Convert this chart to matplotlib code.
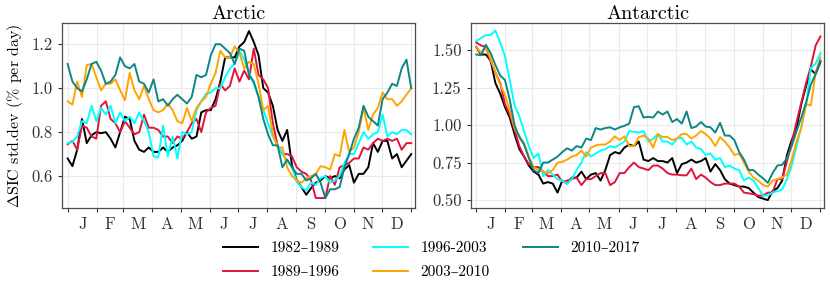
import numpy as np
import matplotlib
matplotlib.use("Agg")
import matplotlib.pyplot as plt
from matplotlib.ticker import FixedLocator, NullFormatter, FixedFormatter, FormatStrFormatter

plt.rcParams['font.family'] = ['cmr10', 'DejaVu Serif']
plt.rcParams['mathtext.fontset'] = 'cm'
plt.rcParams['axes.formatter.use_mathtext'] = True

labels = ["1982–1989", "1989–1996", "1996-2003", "2003–2010", "2010–2017"]
colors = ["black", "#E0143C", "#00FFFF", "#FFA500", "#108585"]
month_labels = ["J", "F", "M", "A", "M", "J", "J", "A", "S", "O", "N", "D"]
month_edges = [0, 31, 59, 90, 120, 151, 181, 212, 243, 273, 304, 334, 365]

arctic_1982 = [0.68,0.645,0.72,0.86,0.75,0.785,0.80,0.795,0.80,0.77,0.73,0.80,0.87,0.86,0.76,0.72,0.71,0.73,0.71,0.71,
               0.73,0.71,0.73,0.74,0.76,0.80,0.77,0.78,0.89,0.90,0.90,0.95,1.03,1.14,1.14,1.14,1.19,1.21,1.26,1.21,
               1.15,1.00,0.98,0.92,0.81,0.76,0.81,0.65,0.58,0.55,0.515,0.545,0.57,0.58,0.60,0.59,0.60,0.59,0.63,0.65,
               0.57,0.61,0.61,0.64,0.75,0.71,0.76,0.76,0.68,0.70,0.64,0.67,0.70]
arctic_1989 = [0.745,0.76,0.72,0.83,0.82,0.78,0.77,0.92,0.94,0.86,0.84,0.80,0.85,0.82,0.79,0.80,0.88,0.82,0.82,0.81,
               0.78,0.78,0.75,0.78,0.77,0.80,0.84,0.86,0.80,0.89,0.91,0.92,1.02,0.99,1.01,1.09,1.03,1.08,1.04,1.18,
               1.06,1.04,1.00,0.84,0.74,0.70,0.70,0.69,0.64,0.62,0.61,0.58,0.50,0.50,0.50,0.60,0.56,0.64,0.65,0.66,
               0.68,0.68,0.73,0.72,0.75,0.77,0.76,0.77,0.76,0.77,0.72,0.75,0.75]
arctic_1996 = [0.75,0.755,0.78,0.85,0.84,0.92,0.85,0.91,0.88,0.92,0.84,0.89,0.85,0.87,0.84,0.89,0.85,0.80,0.69,0.685,
               0.83,0.69,0.78,0.68,0.80,0.79,0.80,0.90,0.94,0.975,0.98,1.00,1.00,1.05,1.09,1.11,1.17,1.13,1.07,1.02,
               0.96,0.90,0.84,0.78,0.74,0.70,0.67,0.64,0.575,0.55,0.535,0.57,0.56,0.59,0.60,0.57,0.58,0.60,0.66,0.70,
               0.70,0.75,0.80,0.77,0.79,0.80,0.88,0.78,0.80,0.79,0.81,0.81,0.79]
arctic_2003 = [0.94,0.925,1.03,0.96,1.105,1.11,1.05,0.99,1.02,1.02,1.04,0.99,0.945,1.07,0.99,0.95,1.01,0.95,0.90,0.89,
               0.90,0.93,0.90,0.85,0.84,0.91,0.85,0.91,0.94,0.96,1.02,1.07,1.17,1.14,1.14,1.19,1.16,1.09,1.12,1.11,
               1.02,0.90,0.92,0.79,0.73,0.73,0.64,0.60,0.58,0.57,0.59,0.60,0.61,0.645,0.64,0.63,0.70,0.69,0.81,0.71,
               0.73,0.80,0.91,0.81,0.88,0.91,0.98,0.95,0.95,0.92,0.94,0.97,1.00]
arctic_2010 = [1.11,1.03,1.00,0.985,1.04,1.11,1.12,1.08,1.02,1.03,1.06,1.14,1.10,1.09,1.11,1.03,1.02,0.98,1.04,0.94,
               0.95,0.92,0.95,0.97,0.95,0.93,0.96,1.06,1.05,1.06,1.15,1.20,1.20,1.18,1.16,1.11,1.18,1.17,1.06,1.03,
               0.96,0.86,0.79,0.74,0.74,0.64,0.675,0.64,0.61,0.61,0.58,0.59,0.61,0.57,0.50,0.54,0.54,0.55,0.64,0.70,
               0.77,0.82,0.92,0.87,0.85,0.83,0.95,0.98,1.02,1.01,1.09,1.13,1.00]

antarctic_1982 = [1.52,1.47,1.47,1.43,1.28,1.21,1.12,1.05,0.94,0.84,0.79,0.73,0.69,0.67,0.61,0.62,0.61,0.55,0.63,0.61,
                  0.65,0.65,0.69,0.64,0.67,0.68,0.63,0.70,0.80,0.82,0.81,0.85,0.87,0.86,0.89,0.77,0.76,0.78,0.76,0.76,
                  0.75,0.78,0.68,0.74,0.75,0.77,0.75,0.76,0.78,0.69,0.74,0.70,0.64,0.61,0.60,0.59,0.59,0.58,0.55,0.52,
                  0.51,0.50,0.56,0.58,0.63,0.80,0.90,0.98,1.14,1.26,1.37,1.34,1.42]
antarctic_1989 = [1.55,1.53,1.52,1.43,1.35,1.28,1.14,1.07,0.97,0.86,0.79,0.74,0.72,0.72,0.69,0.66,0.66,0.67,0.62,0.63,
                  0.64,0.65,0.60,0.64,0.64,0.66,0.68,0.68,0.60,0.62,0.68,0.68,0.72,0.75,0.72,0.71,0.70,0.73,0.73,0.71,
                  0.68,0.67,0.67,0.665,0.665,0.71,0.64,0.67,0.65,0.62,0.60,0.60,0.61,0.61,0.61,0.59,0.55,0.545,0.54,0.53,
                  0.53,0.55,0.55,0.64,0.64,0.76,0.88,1.02,1.15,1.28,1.39,1.53,1.59]
antarctic_1996 = [1.56,1.58,1.60,1.60,1.63,1.55,1.46,1.30,1.13,1.06,0.96,0.86,0.78,0.81,0.66,0.70,0.67,0.64,0.63,0.61,
                  0.64,0.70,0.75,0.82,0.79,0.81,0.83,0.84,0.86,0.85,0.87,0.89,0.96,0.955,0.95,0.96,0.89,0.91,0.94,0.89,
                  0.89,0.87,0.91,0.915,0.87,0.89,0.85,0.84,0.80,0.81,0.77,0.78,0.72,0.73,0.71,0.70,0.63,0.65,0.63,0.58,
                  0.53,0.53,0.55,0.56,0.57,0.64,0.73,0.86,0.99,1.13,1.38,1.41,1.48]
antarctic_2003 = [1.52,1.48,1.52,1.44,1.35,1.27,1.20,1.10,0.98,0.93,0.88,0.79,0.72,0.70,0.69,0.68,0.70,0.75,0.755,0.77,
                  0.79,0.80,0.83,0.79,0.85,0.865,0.87,0.87,0.89,0.925,0.90,0.925,0.86,0.86,0.92,0.93,0.91,0.85,0.94,0.92,
                  0.92,0.90,0.91,0.94,0.94,0.91,0.93,0.96,0.94,0.91,0.86,0.92,0.89,0.85,0.80,0.81,0.75,0.69,0.65,0.63,
                  0.60,0.59,0.63,0.64,0.65,0.67,0.77,0.89,0.98,1.14,1.13,1.35,1.45]
antarctic_2010 = [1.47,1.465,1.535,1.48,1.40,1.33,1.30,1.17,1.00,0.92,0.87,0.78,0.70,0.68,0.75,0.75,0.77,0.79,0.82,0.845,
                  0.83,0.86,0.85,0.91,0.90,0.98,0.97,0.98,0.985,0.97,0.985,0.995,1.01,1.12,1.125,1.05,1.055,1.05,1.09,1.07,
                  1.09,1.02,1.04,1.01,1.09,0.98,0.99,1.02,0.99,0.985,0.95,1.015,0.93,0.93,0.90,0.82,0.77,0.70,0.70,0.67,
                  0.645,0.615,0.68,0.73,0.735,0.78,0.86,0.96,1.05,1.15,1.27,1.34,1.43]

arctic = [arctic_1982, arctic_1989, arctic_1996, arctic_2003, arctic_2010]
antarctic = [antarctic_1982, antarctic_1989, antarctic_1996, antarctic_2003, antarctic_2010]

fig = plt.figure(figsize=(8.3, 2.91), dpi=100)
ax1 = fig.add_axes([0.0747, 0.284, 0.4253, 0.638])
ax2 = fig.add_axes([0.567, 0.284, 0.426, 0.638])

def style(ax, ylim, yticks, fmt):
    ax.set_facecolor("white")
    ax.grid(True, which="major", color="#EBEBEB", lw=0.8, zorder=0)
    ax.set_axisbelow(True)
    for s in ax.spines.values():
        s.set_color("#4D4D4D")
        s.set_linewidth(0.9)
    ax.set_xlim(-6, 369)
    ax.set_ylim(*ylim)
    ax.xaxis.set_major_locator(FixedLocator(month_edges))
    ax.xaxis.set_major_formatter(NullFormatter())
    mids = [(a + b) / 2 for a, b in zip(month_edges[:-1], month_edges[1:])]
    ax.xaxis.set_minor_locator(FixedLocator(mids))
    ax.xaxis.set_minor_formatter(FixedFormatter(month_labels))
    ax.tick_params(axis="x", which="minor", length=0, labelsize=12, pad=6, colors="#333333")
    ax.tick_params(axis="x", which="major", length=3, color="#333333", width=0.8)
    ax.yaxis.set_major_locator(FixedLocator(yticks))
    ax.yaxis.set_major_formatter(FormatStrFormatter(fmt))
    ax.tick_params(axis="y", length=3, color="#333333", width=0.8, labelsize=12, labelcolor="#333333")

n = len(arctic_1982)
x = np.linspace(0, 365, n)
for vals, c, lab in zip(arctic, colors, labels):
    ax1.plot(x, vals, color=c, lw=1.4, label=lab)
for vals, c, lab in zip(antarctic, colors, labels):
    ax2.plot(x, vals, color=c, lw=1.4)

style(ax1, (0.453, 1.298), [0.6, 0.8, 1.0, 1.2], "%.1f")
style(ax2, (0.445, 1.682), [0.5, 0.75, 1.0, 1.25, 1.5], "%.2f")
ax1.set_title("Arctic", fontsize=14.5, pad=3)
ax2.set_title("Antarctic", fontsize=14.5, pad=3)
ax1.set_ylabel(r"$\Delta$SIC std.dev (% per day)", fontsize=11.5, labelpad=5)

h, l = ax1.get_legend_handles_labels()
fig.legend(h, l, ncol=3, loc="center", bbox_to_anchor=(0.52, 0.105), frameon=False,
           fontsize=11, handlelength=2.3, handletextpad=0.8, columnspacing=2.2, labelspacing=0.65)

fig.savefig("out.png", dpi=100)
